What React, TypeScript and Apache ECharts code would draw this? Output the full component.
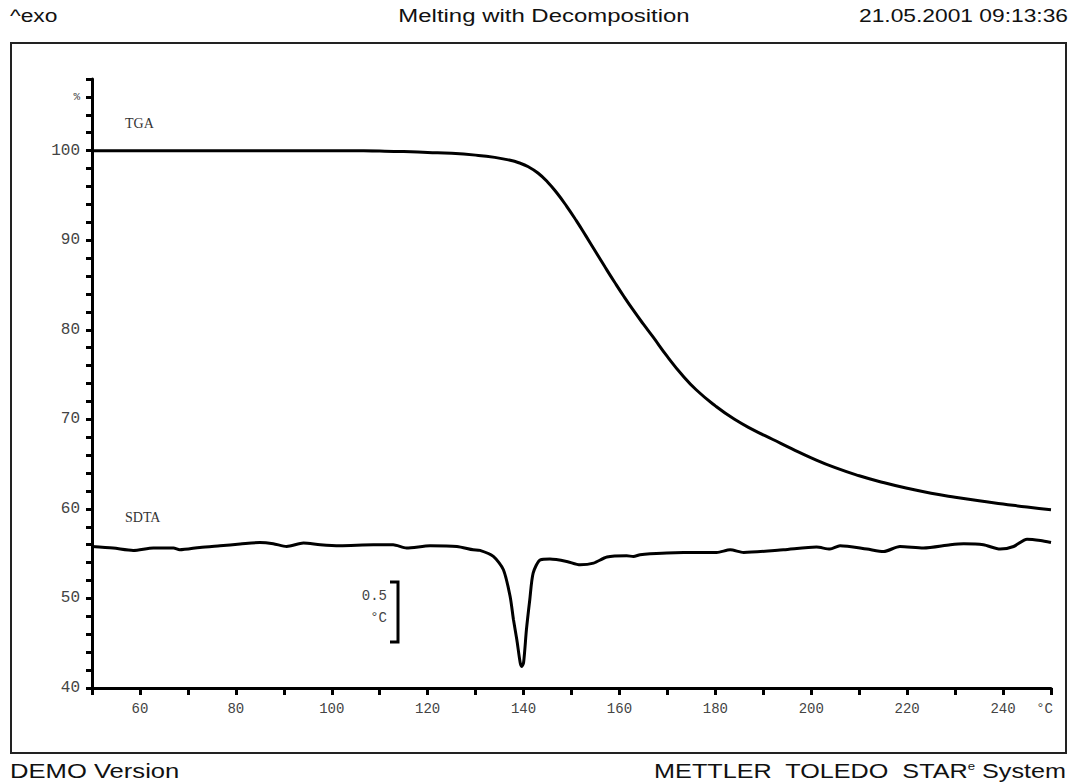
import React, { useEffect, useRef } from "react";
import * as echarts from "echarts";

// TGA curve (temperature °C, mass %)
const tgaTemp = [50, 60, 70, 80, 90, 100, 110, 115, 120, 125, 130, 134, 137, 139, 141, 143, 145, 147, 149, 151, 153, 155, 157, 159, 161, 163, 165, 167, 170, 173, 176, 180, 184, 188, 192, 196, 200, 205, 210, 215, 220, 225, 230, 235, 240, 245, 250];
const tgaMass = [100.0, 100.0, 100.0, 100.0, 100.0, 100.0, 99.95, 99.9, 99.8, 99.7, 99.5, 99.25, 98.95, 98.65, 98.2, 97.5, 96.5, 95.24, 93.78, 92.18, 90.48, 88.74, 87.0, 85.3, 83.66, 82.1, 80.62, 79.2, 77.0, 75.0, 73.3, 71.5, 70.0, 68.8, 67.75, 66.7, 65.7, 64.6, 63.7, 62.95, 62.3, 61.75, 61.3, 60.9, 60.55, 60.2, 59.9];

// SDTA curve (temperature °C, temperature difference °C relative to start)
const sdtaTemp = [50, 54.4, 58.6, 62.8, 67.0, 68.3, 72.5, 76.7, 80.9, 85.0, 87.8, 90.6, 94.1, 97.6, 101.7, 108.7, 112.8, 115.6, 120.5, 126.1, 129.5, 130.9, 133.7, 135.8, 137.2, 137.9, 138.6, 139.3, 139.6, 140.0, 140.6, 141.3, 142.0, 143.5, 145.5, 149.0, 151.8, 154.6, 157.4, 161.5, 162.9, 164.3, 166.4, 173.4, 180.3, 183.1, 185.9, 194.2, 201.1, 203.9, 206.0, 211.6, 215.1, 218.5, 223.4, 229.0, 231.8, 235.9, 239.4, 242.2, 245.0, 247.8, 250.0];
const sdtaDelta = [0, -0.013, -0.033, -0.013, -0.013, -0.028, -0.008, 0.006, 0.02, 0.033, 0.023, 0.0, 0.028, 0.014, 0.006, 0.014, 0.014, -0.013, 0.006, 0.0, -0.028, -0.033, -0.083, -0.194, -0.417, -0.611, -0.778, -0.97, -1.0, -0.97, -0.694, -0.444, -0.222, -0.111, -0.105, -0.125, -0.153, -0.139, -0.088, -0.078, -0.083, -0.069, -0.061, -0.05, -0.05, -0.028, -0.05, -0.028, -0.005, -0.022, 0.006, -0.022, -0.042, 0.0, -0.013, 0.014, 0.022, 0.014, -0.022, 0.0, 0.061, 0.05, 0.033];

const headerLeft = "^exo";
const headerTitle = "Melting with Decomposition";
const headerDate = "21.05.2001 09:13:36";
const footerLeft = "DEMO Version";

const sansFont = "'Liberation Sans', Arial, sans-serif";
const monoFont = "'Liberation Mono', 'DejaVu Sans Mono', monospace";
const serifFont = "'Liberation Serif', 'DejaVu Serif', serif";

export default function App() {
  const ref = useRef<HTMLDivElement>(null);

  useEffect(() => {
    if (!ref.current) return;
    const chart = echarts.init(ref.current, undefined, { renderer: "svg" });
    const tga = tgaTemp.map((t, i) => [t, tgaMass[i]]);
    const sdta = sdtaTemp.map((t, i) => [t, sdtaDelta[i]]);

    chart.setOption({
      animation: false,
      backgroundColor: "#ffffff",
      grid: { left: 92, right: 21, top: 79, bottom: 94, containLabel: false },
      xAxis: {
        type: "value",
        min: 50,
        max: 250,
        interval: 10,
        axisLine: { show: true, onZero: false, lineStyle: { color: "#000", width: 3 } },
        axisTick: { show: true, length: 7, lineStyle: { color: "#000", width: 3 } },
        splitLine: { show: false },
        axisLabel: {
          margin: 14,
          color: "#444",
          fontFamily: monoFont,
          fontSize: 14,
          formatter: (v: number) => (v % 20 === 0 ? String(v) : ""),
        },
      },
      yAxis: [
        {
          type: "value",
          min: 40,
          max: 108,
          interval: 2,
          axisLine: { show: true, onZero: false, lineStyle: { color: "#000", width: 3 } },
          axisTick: { show: true, length: 6, lineStyle: { color: "#000", width: 3 } },
          splitLine: { show: false },
          axisLabel: {
            margin: 12,
            color: "#444",
            fontFamily: monoFont,
            fontSize: 16,
            formatter: (v: number) =>
              v === 106 ? "{p|%}" : v % 10 === 0 && v <= 100 ? String(v) : "",
            rich: { p: { fontSize: 11, fontFamily: monoFont, color: "#444" } },
          },
        },
        {
          type: "value",
          show: false,
          min: -1.18,
          max: 3.8975,
          splitLine: { show: false },
        },
      ],
      series: [
        {
          name: "TGA",
          type: "line",
          data: tga,
          yAxisIndex: 0,
          showSymbol: false,
          smooth: 0.5,
          lineStyle: { color: "#000", width: 3 },
        },
        {
          name: "SDTA",
          type: "line",
          data: sdta,
          yAxisIndex: 1,
          showSymbol: false,
          smooth: 0.25,
          lineStyle: { color: "#000", width: 3 },
        },
      ],
      graphic: [
        {
          type: "rect",
          shape: { x: 11, y: 43, width: 1055, height: 710 },
          style: { fill: "none", stroke: "#222", lineWidth: 2 },
        },
        {
          type: "text",
          x: 10,
          y: 15,
          scaleX: 1.2,
          style: { text: headerLeft, font: `19px ${sansFont}`, fill: "#111", textAlign: "left", textVerticalAlign: "middle" },
        },
        {
          type: "text",
          x: 544,
          y: 15,
          scaleX: 1.26,
          style: { text: headerTitle, font: `19px ${sansFont}`, fill: "#111", textAlign: "center", textVerticalAlign: "middle" },
        },
        {
          type: "text",
          x: 1068,
          y: 15,
          scaleX: 1.2,
          style: { text: headerDate, font: `19px ${sansFont}`, fill: "#111", textAlign: "right", textVerticalAlign: "middle" },
        },
        {
          type: "text",
          x: 125,
          y: 123,
          style: { text: "TGA", font: `14px ${serifFont}`, fill: "#333", textAlign: "left", textVerticalAlign: "middle" },
        },
        {
          type: "text",
          x: 125,
          y: 517,
          style: { text: "SDTA", font: `14px ${serifFont}`, fill: "#333", textAlign: "left", textVerticalAlign: "middle" },
        },
        {
          type: "polyline",
          shape: { points: [[390, 582], [398, 582], [398, 642], [390, 642]] },
          style: { stroke: "#000", lineWidth: 3, fill: "none" },
        },
        {
          type: "text",
          x: 387,
          y: 596,
          style: { text: "0.5", font: `14px ${monoFont}`, fill: "#444", textAlign: "right", textVerticalAlign: "middle" },
        },
        {
          type: "text",
          x: 387,
          y: 618,
          style: { text: "°C", font: `14px ${monoFont}`, fill: "#444", textAlign: "right", textVerticalAlign: "middle" },
        },
        {
          type: "text",
          x: 1053,
          y: 709,
          style: { text: "°C", font: `14px ${monoFont}`, fill: "#444", textAlign: "right", textVerticalAlign: "middle" },
        },
        {
          type: "text",
          x: 10,
          y: 771,
          scaleX: 1.22,
          style: { text: footerLeft, font: `21px ${sansFont}`, fill: "#111", textAlign: "left", textVerticalAlign: "middle" },
        },
        {
          type: "text",
          x: 1066,
          y: 771,
          scaleX: 1.2,
          style: {
            text: "METTLER  TOLEDO  STAR{s|e} System",
            font: `21px ${sansFont}`,
            fill: "#111",
            textAlign: "right",
            textVerticalAlign: "middle",
            rich: { s: { fontSize: 11, fontFamily: sansFont, fill: "#111", verticalAlign: "top", padding: [0, 0, 10, 0] } },
          },
        },
      ],
    });

    return () => chart.dispose();
  }, []);

  return (
    <div
      ref={ref}
      style={{ position: "fixed", left: 0, top: 0, width: 1072, height: 782, background: "#fff" }}
    />
  );
}
